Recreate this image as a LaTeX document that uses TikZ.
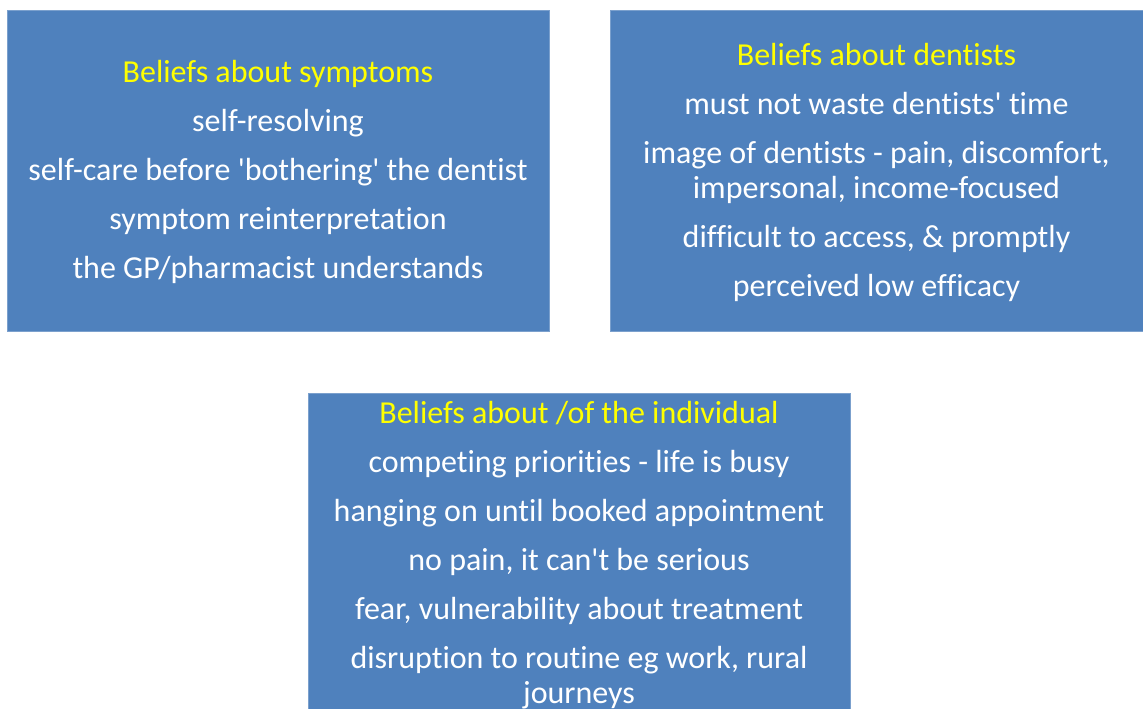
\documentclass[tikz,border=0pt]{standalone}
\usepackage{fontspec}
\newfontfamily\beliefsfont{Carlito}[Ligatures=NoCommon]
\definecolor{beliefblue}{RGB}{79,129,189}
\definecolor{beliefyellow}{RGB}{255,255,0}
\usetikzlibrary{positioning}

\begin{document}
\begin{tikzpicture}[x=1pt,y=-1pt,
    belief/.style={rectangle, fill=beliefblue, draw=beliefblue!75!white,
        line width=0.6pt, text=white, align=center, inner sep=0pt,
        node font=\beliefsfont\fontsize{32}{35}\selectfont},
]
\useasboundingbox (0,0) rectangle (1143,709);
\clip (0,0) rectangle (1143,709);
\node[belief, minimum width=542pt, minimum height=321pt] (symptoms) at (278,170.5) {};
\node[belief, minimum width=533pt, minimum height=321pt] (dentists) at (876.5,170.5) {};
\node[belief, minimum width=542pt, minimum height=321pt] (individual) at (579,553.5) {};
% texts, a little below the box centres
\node[belief, fill=none, draw=none] (symptomstext) at ([yshift=-1.5pt]symptoms.center)
    {\textcolor{beliefyellow}{Beliefs about symptoms}\\[14pt]
     self-resolving\\[14pt]
     self-care before 'bothering' the dentist\\[14pt]
     symptom reinterpretation\\[14pt]
     the GP/pharmacist understands};
\node[belief, fill=none, draw=none] (dentiststext) at ([yshift=-1.5pt]dentists.center)
    {\textcolor{beliefyellow}{Beliefs about dentists}\\[14pt]
     must not waste dentists' time\\[14pt]
     image of dentists - pain, discomfort,\\
     impersonal, income-focused\\[14pt]
     difficult to access, \& promptly\\[14pt]
     perceived low efficacy};
\node[belief, fill=none, draw=none] (individualtext) at ([yshift=-1.5pt]individual.center)
    {\textcolor{beliefyellow}{Beliefs about /of the individual}\\[14pt]
     competing priorities - life is busy\\[14pt]
     hanging on until booked appointment\\[14pt]
     no pain, it can't be serious\\[14pt]
     fear, vulnerability about treatment\\[14pt]
     disruption to routine eg work, rural\\
     journeys};
\end{tikzpicture}
\end{document}
